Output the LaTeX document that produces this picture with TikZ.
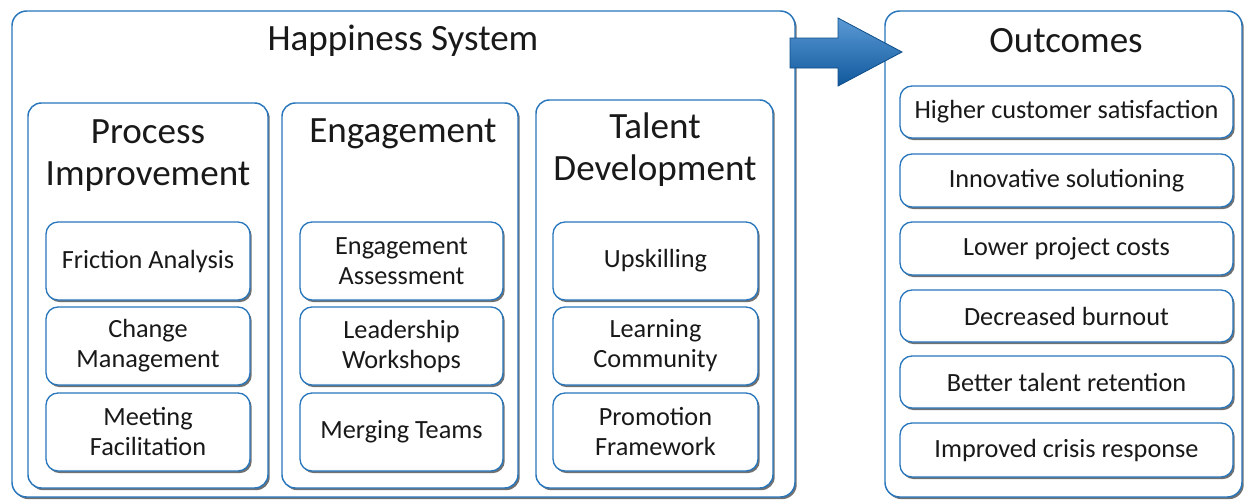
\documentclass[tikz,border=0pt]{standalone}
\usepackage{fontspec}
\setmainfont{Carlito}
\usetikzlibrary{shadows,fit}
\definecolor{bord}{RGB}{40,118,188}
\definecolor{arrowblue}{RGB}{20,110,195}
\pgfdeclareverticalshading{itemshade}{100bp}{color(0bp)=(black!30); color(14bp)=(black!6); color(30bp)=(white); color(100bp)=(white)}
\begin{document}
\begin{tikzpicture}[x=0.75pt,y=-0.75pt,
  shd/.style={drop shadow={shadow xshift=1.3pt,shadow yshift=-1.6pt,fill=black!65,opacity=.85}},
  bigbox/.style={draw=bord,line width=1.1pt,fill=white,rounded corners=11pt,inner sep=0pt,shd},
  colbox/.style={draw=bord,line width=1.1pt,fill=white,rounded corners=10pt,inner sep=0pt,shd},
  itembox/.style={draw=bord,line width=1pt,shading=itemshade,rounded corners=9pt,inner sep=0pt,shd},
  itemtxt/.style={align=center,font=\fontsize{19.7}{22.5}\selectfont,text=black!90,inner sep=0pt},
  title/.style={align=center,font=\fontsize{27.8}{31.5}\selectfont,text=black!90,inner sep=0pt}
]
\useasboundingbox (0,0) rectangle (1247,500);
\fill[white] (0,0) rectangle (1247,500);

% outer boxes
\node[bigbox,fit={(12,11)(795,497)}] (hs) {};
\node[bigbox,fit={(885,11)(1242,497)}] (oc) {};

% titles
\node[title] (hst) at (403,41) {Happiness System};
\node[title] (oct) at (1066,41) {Outcomes};

% column boxes
\node[colbox,fit={(28,103)(268,488)}] (pi) {};
\node[colbox,fit={(282,103)(518,488)}] (en) {};
\node[colbox,fit={(536,100)(773,488)}] (td) {};

\node[title] (pit) at (148,156) {Process\\Improvement};
\node[title] (ent) at (403,134) {Engagement};
\node[title] (tdt) at (655,150) {Talent\\Development};

% process improvement items
\node[itembox,fit={(46,222)(250,300)}] (pi1) {};
\node[itembox,fit={(46,307)(250,385)}] (pi2) {};
\node[itembox,fit={(46,393)(250,471)}] (pi3) {};
\node[itemtxt] at (pi1) {Friction Analysis};
\node[itemtxt] at (pi2) {Change\\Management};
\node[itemtxt] at (pi3) {Meeting\\Facilitation};

% engagement items
\node[itembox,fit={(300,222)(503,300)}] (en1) {};
\node[itembox,fit={(300,307)(503,385)}] (en2) {};
\node[itembox,fit={(300,393)(503,471)}] (en3) {};
\node[itemtxt] at (en1) {Engagement\\Assessment};
\node[itemtxt] at (en2) {Leadership\\Workshops};
\node[itemtxt] at (en3) {Merging Teams};

% talent development items
\node[itembox,fit={(553,222)(758,300)}] (td1) {};
\node[itembox,fit={(553,307)(758,385)}] (td2) {};
\node[itembox,fit={(553,393)(758,471)}] (td3) {};
\node[itemtxt] at (td1) {Upskilling};
\node[itemtxt] at (td2) {Learning\\Community};
\node[itemtxt] at (td3) {Promotion\\Framework};

% outcomes
\node[itembox,fit={(900,86)(1233,138)}] (o1) {};
\node[itembox,fit={(900,154)(1233,207)}] (o2) {};
\node[itembox,fit={(900,222)(1233,275)}] (o3) {};
\node[itembox,fit={(900,290)(1233,342)}] (o4) {};
\node[itembox,fit={(900,356)(1233,408)}] (o5) {};
\node[itembox,fit={(900,423)(1233,477)}] (o6) {};
\node[itemtxt] at (o1) {Higher customer satisfaction};
\node[itemtxt] at (o2) {Innovative solutioning};
\node[itemtxt] at (o3) {Lower project costs};
\node[itemtxt] at (o4) {Decreased burnout};
\node[itemtxt] at (o5) {Better talent retention};
\node[itemtxt] at (o6) {Improved crisis response};

% block arrow
\path[draw=arrowblue!70!black,line width=0.6pt,top color=arrowblue!70!white,bottom color=arrowblue!80!black]
  (790,38) -- (838,38) -- (838,18) -- (902,52) -- (838,86) -- (838,68) -- (790,68) -- cycle;
\end{tikzpicture}
\end{document}
